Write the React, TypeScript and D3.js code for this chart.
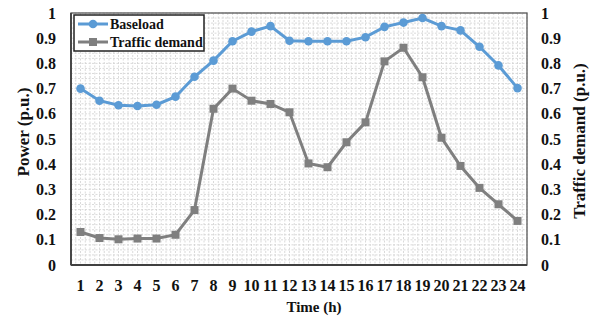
import { useEffect, useRef } from 'react';
import * as d3 from 'd3';

const hours = d3.range(1, 25).map(String);
const baseload = [0.70, 0.652, 0.634, 0.631, 0.636, 0.668, 0.747, 0.811, 0.888, 0.926, 0.948, 0.890,
  0.888, 0.888, 0.888, 0.904, 0.945, 0.962, 0.980, 0.948, 0.931, 0.866, 0.792, 0.702];
const traffic = [0.131, 0.107, 0.102, 0.105, 0.105, 0.120, 0.218, 0.620, 0.700, 0.652, 0.639, 0.606,
  0.403, 0.388, 0.487, 0.566, 0.808, 0.862, 0.745, 0.505, 0.393, 0.306, 0.241, 0.175];
const yTicks = [0, 0.1, 0.2, 0.3, 0.4, 0.5, 0.6, 0.7, 0.8, 0.9, 1];

const BLUE = '#5b9bd5';
const GRAY = '#7f7f7f';
const FONT = '"Liberation Serif", "Times New Roman", serif';

const App = () => {
  const svgRef = useRef(null);

  useEffect(() => {
    const width = 597, height = 320;
    const m = { left: 71, right: 70, top: 13, bottom: 55 };
    const svg = d3.select(svgRef.current);
    svg.selectAll('*').remove();

    const x = d3.scaleBand().domain(hours).range([m.left, width - m.right]);
    const y = d3.scaleLinear().domain([0, 1]).range([height - m.bottom, m.top]);
    const cx = (d: string) => x(d)! + x.bandwidth() / 2;

    // minor dashed grid
    const grid = svg.append('g').attr('stroke', '#d0d0d0').attr('stroke-width', 0.8).attr('stroke-dasharray', '2,1.5');
    d3.range(0, 1.0001, 0.02).forEach(v => {
      grid.append('line').attr('x1', m.left).attr('x2', width - m.right).attr('y1', y(v)).attr('y2', y(v));
    });
    d3.range(0, 24 * 4 + 1).forEach(i => {
      const xx = m.left + i * x.bandwidth() / 4;
      grid.append('line').attr('x1', xx).attr('x2', xx).attr('y1', m.top).attr('y2', height - m.bottom);
    });

    // frame
    svg.append('rect').attr('x', m.left).attr('y', m.top)
      .attr('width', width - m.left - m.right).attr('height', height - m.top - m.bottom)
      .attr('fill', 'none').attr('stroke', '#595959').attr('stroke-width', 1.3);
    svg.append('line').attr('x1', m.left).attr('x2', width - m.right)
      .attr('y1', height - m.bottom).attr('y2', height - m.bottom).attr('stroke', '#404040').attr('stroke-width', 2);
    svg.append('line').attr('x1', m.left).attr('x2', m.left)
      .attr('y1', m.top).attr('y2', height - m.bottom).attr('stroke', '#404040').attr('stroke-width', 1.8);

    const tickText = (g: any) => g.attr('font-family', FONT).attr('font-weight', 'bold').attr('font-size', 16).attr('fill', '#111');

    // tick labels
    const yl = svg.append('g').call(tickText);
    yTicks.forEach(v => {
      yl.append('text').attr('x', 56).attr('y', y(v)).attr('dy', '0.35em').attr('text-anchor', 'end').text(d3.format('~g')(v));
    });
    const yr = svg.append('g').call(tickText);
    yTicks.forEach(v => {
      yr.append('text').attr('x', 541).attr('y', y(v)).attr('dy', '0.35em').attr('text-anchor', 'start').text(d3.format('~g')(v));
    });
    const xl = svg.append('g').call(tickText);
    hours.forEach(h => {
      xl.append('text').attr('x', cx(h)).attr('y', 291).attr('text-anchor', 'middle').text(h);
    });

    // axis titles
    const title = (g: any, s: number) => g.attr('font-family', FONT).attr('font-weight', 'bold').attr('font-size', s).attr('fill', '#111').attr('text-anchor', 'middle');
    svg.append('text').call(title, 15).attr('x', 314).attr('y', 312).text('Time (h)');
    svg.append('text').call(title, 17).attr('transform', 'translate(29,132) rotate(-90)').text('Power (p.u.)');
    svg.append('text').call(title, 17).attr('transform', 'translate(585,141) rotate(-90)').text('Traffic demand (p.u.)');

    const line = d3.line<number>().x((_, i) => cx(hours[i])).y(d => y(d));

    svg.append('path').datum(traffic).attr('d', line).attr('fill', 'none').attr('stroke', GRAY).attr('stroke-width', 3);
    svg.append('g').selectAll('rect').data(traffic).join('rect')
      .attr('x', (_, i) => cx(hours[i]) - 4).attr('y', d => y(d) - 4)
      .attr('width', 8).attr('height', 8).attr('fill', GRAY);

    svg.append('path').datum(baseload).attr('d', line).attr('fill', 'none').attr('stroke', BLUE).attr('stroke-width', 3);
    svg.append('g').selectAll('circle').data(baseload).join('circle')
      .attr('cx', (_, i) => cx(hours[i])).attr('cy', d => y(d)).attr('r', 4.3).attr('fill', BLUE);

    // legend
    const lg = svg.append('g');
    lg.append('rect').attr('x', 74).attr('y', 15).attr('width', 130).attr('height', 36)
      .attr('fill', 'white').attr('stroke', '#222').attr('stroke-width', 1.5);
    const entries = [{ name: 'Baseload', c: BLUE, shape: 'circle' }, { name: 'Traffic demand', c: GRAY, shape: 'rect' }];
    entries.forEach((e, i) => {
      const yy = 24 + i * 18;
      lg.append('line').attr('x1', 78).attr('x2', 108).attr('y1', yy).attr('y2', yy).attr('stroke', e.c).attr('stroke-width', 3);
      if (e.shape === 'circle') lg.append('circle').attr('cx', 93).attr('cy', yy).attr('r', 4.3).attr('fill', e.c);
      else lg.append('rect').attr('x', 89).attr('y', yy - 4).attr('width', 8).attr('height', 8).attr('fill', e.c);
      lg.append('text').attr('x', 110).attr('y', yy).attr('dy', '0.35em').attr('font-family', FONT)
        .attr('font-weight', 'bold').attr('font-size', 14).attr('fill', '#111').text(e.name);
    });
  }, []);

  return (
    <svg ref={svgRef} width={597} height={320}
      style={{ position: 'absolute', left: 0, top: 0, background: 'white' }} />
  );
};

export default App;
